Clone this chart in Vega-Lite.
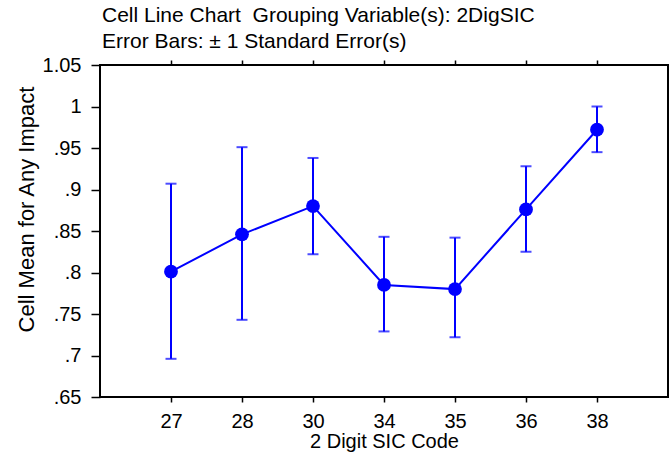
{
  "$schema": "https://vega.github.io/schema/vega-lite/v6.json",
  "width": 568,
  "height": 332,
  "autosize": "none",
  "padding": {"left": 100, "top": 65, "right": 2, "bottom": 57},
  "background": "white",
  "config": {
    "view": {"stroke": "black", "strokeWidth": 2},
    "font": "Liberation Sans",
    "axis": {
      "domain": false,
      "grid": false,
      "tickColor": "black",
      "tickWidth": 1.5,
      "labelColor": "black",
      "labelFont": "Liberation Sans",
      "labelFontSize": 20,
      "titleFont": "Liberation Sans",
      "titleFontSize": 20,
      "titleFontWeight": "normal",
      "titleColor": "black"
    }
  },
  "title": {
    "text": ["Cell Line Chart \u00a0Grouping Variable(s): 2DigSIC", "Error Bars: ± 1 Standard Error(s)"],
    "anchor": "start",
    "frame": "group",
    "font": "Liberation Sans",
    "fontSize": 21,
    "fontWeight": "normal",
    "color": "black",
    "lineHeight": 26,
    "offset": 3,
    "dx": 2
  },
  "data": {
    "values": [
      {"code": "27", "mean": 0.801, "lo": 0.696, "hi": 0.907},
      {"code": "28", "mean": 0.846, "lo": 0.743, "hi": 0.951},
      {"code": "30", "mean": 0.880, "lo": 0.822, "hi": 0.938},
      {"code": "34", "mean": 0.785, "lo": 0.729, "hi": 0.843},
      {"code": "35", "mean": 0.780, "lo": 0.722, "hi": 0.842},
      {"code": "36", "mean": 0.876, "lo": 0.825, "hi": 0.928},
      {"code": "38", "mean": 0.972, "lo": 0.945, "hi": 1.0}
    ]
  },
  "resolve": {"axis": {"x": "independent"}},
  "layer": [
    {
      "mark": {"type": "rule", "color": "#0000FF", "strokeWidth": 2},
      "encoding": {
        "x": {
          "field": "code", "type": "ordinal", "sort": null,
          "scale": {"type": "point", "padding": 1},
          "axis": {"orient": "bottom", "title": "2 Digit SIC Code", "labelAngle": 0, "tickSize": 5, "labelPadding": 9, "titlePadding": 0}
        },
        "y": {
          "field": "lo", "type": "quantitative",
          "scale": {"domain": [0.65, 1.05], "nice": false, "zero": false},
          "axis": {
            "title": "Cell Mean for Any Impact",
            "titleFontSize": 22,
            "titleAngle": -90,
            "titleX": -67,
            "titleY": 144,
            "titleAlign": "center",
            "titleBaseline": "alphabetic",
            "values": [0.65, 0.675, 0.7, 0.725, 0.75, 0.775, 0.8, 0.825, 0.85, 0.875, 0.9, 0.925, 0.95, 0.975, 1.0, 1.025, 1.05],
            "labelExpr": "abs(round(datum.value*20) - datum.value*20) < 0.001 ? replace(format(datum.value, '.2~f'), /^0/, '') : ''",
            "tickSize": {"condition": {"test": "abs(round(datum.value*20) - datum.value*20) < 0.001", "value": 9}, "value": 4},
            "labelPadding": 10
          }
        },
        "y2": {"field": "hi"}
      }
    },
    {
      "mark": {"type": "tick", "color": "#0000FF", "thickness": 2, "size": 11, "orient": "horizontal"},
      "encoding": {
        "x": {"field": "code", "type": "ordinal", "sort": null, "scale": {"type": "point", "padding": 1},
              "axis": {"orient": "top", "title": null, "labels": false, "tickSize": 5}},
        "y": {"field": "lo", "type": "quantitative"}
      }
    },
    {
      "mark": {"type": "tick", "color": "#0000FF", "thickness": 2, "size": 11, "orient": "horizontal"},
      "encoding": {
        "x": {"field": "code", "type": "ordinal", "sort": null, "scale": {"type": "point", "padding": 1}, "axis": null},
        "y": {"field": "hi", "type": "quantitative"}
      }
    },
    {
      "mark": {"type": "line", "color": "#0000FF", "strokeWidth": 2},
      "encoding": {
        "x": {"field": "code", "type": "ordinal", "sort": null, "scale": {"type": "point", "padding": 1}, "axis": null},
        "y": {"field": "mean", "type": "quantitative"}
      }
    },
    {
      "mark": {"type": "point", "shape": "circle", "filled": true, "color": "#0000FF", "opacity": 1, "size": 190},
      "encoding": {
        "x": {"field": "code", "type": "ordinal", "sort": null, "scale": {"type": "point", "padding": 1}, "axis": null},
        "y": {"field": "mean", "type": "quantitative"}
      }
    }
  ]
}
